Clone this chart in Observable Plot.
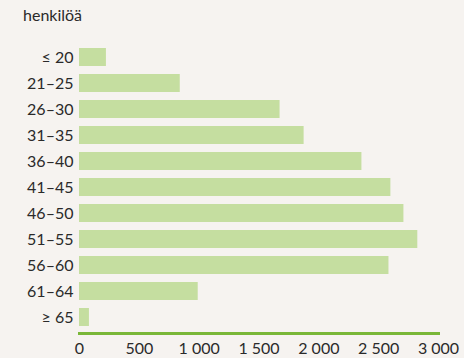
<!DOCTYPE html>
<html><head><meta charset="utf-8">
<script src="https://cdn.jsdelivr.net/npm/d3@7"></script>
<script src="https://cdn.jsdelivr.net/npm/@observablehq/plot@0.6"></script>
<style>
html,body{margin:0;padding:0;background:#f6f3f0;}
body{width:464px;height:358px;overflow:hidden;font-family:Lato,sans-serif;color:#2a2a2a;}
#title{height:30px;box-sizing:border-box;padding:5px 0 0 23px;font-size:16px;line-height:19px;}
</style></head>
<body>
<div id="title">henkilöä</div>
<div id="chart"></div>
<script>
const categories = ["≤ 20","21–25","26–30","31–35","36–40","41–45","46–50","51–55","56–60","61–64","≥ 65"];
const values = [225, 842, 1676, 1877, 2360, 2602, 2711, 2827, 2586, 992, 83];
const xTicks = [0, 500, 1000, 1500, 2000, 2500, 3000];
const data = categories.map((c, i) => ({category: c, value: values[i]}));
const fmt = d => d3.format(",")(d).replace(/,/g, " ");
const chart = Plot.plot({
  width: 464,
  height: 328,
  marginLeft: 79,
  marginRight: 26,
  marginTop: 11,
  marginBottom: 25,
  style: {background: "#f6f3f0", fontFamily: "Lato, sans-serif", fontSize: "16px", color: "#2a2a2a"},
  x: {domain: [0, 3000], ticks: xTicks, tickFormat: fmt},
  y: {domain: categories, paddingInner: 0.3, paddingOuter: 0.1},
  marks: [
    Plot.barX(data, {y: "category", x: "value", fill: "#c5dea0"}),
    Plot.frame({anchor: "bottom", stroke: "#7ab738", strokeWidth: 3}),
    Plot.axisX({ticks: xTicks, tickFormat: fmt, tickSize: 0, tickPadding: 9, label: null, fill: "#2a2a2a"}),
    Plot.axisY({tickSize: 0, tickPadding: 6, label: null, fill: "#2a2a2a"})
  ]
});
document.getElementById("chart").appendChild(chart);
</script>
</body></html>
